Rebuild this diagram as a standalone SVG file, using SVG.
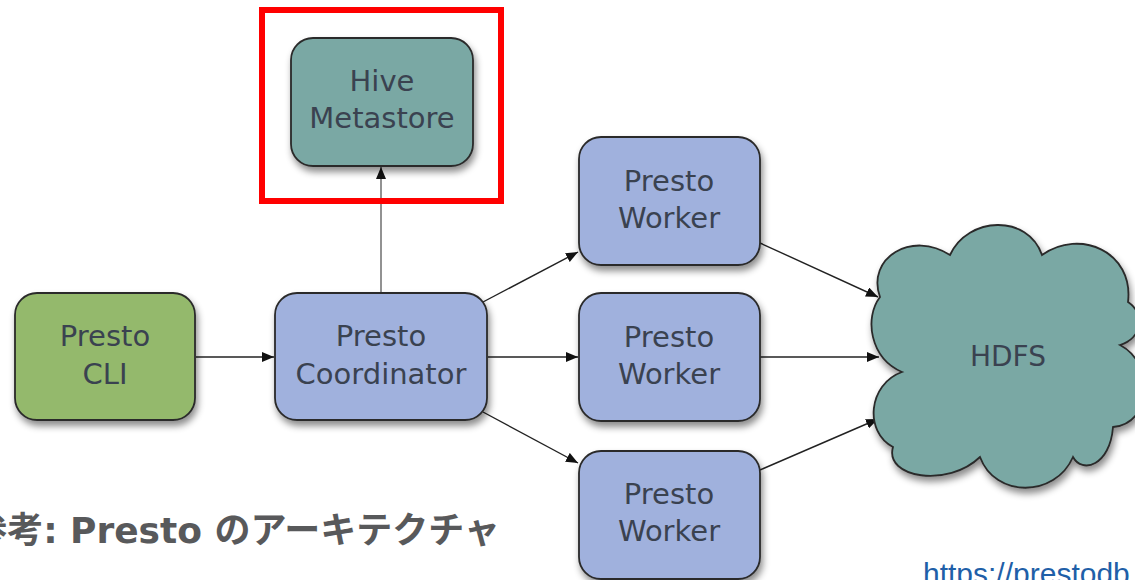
<svg xmlns="http://www.w3.org/2000/svg" width="1135" height="580" viewBox="0 0 1135 580">
<defs>
<style>
.box{stroke:#2a2a2a;stroke-width:1.8;filter:url(#sh)}
.blue{fill:#a0b1dd}
.teal{fill:#7aa8a4}
.green{fill:#94b96c}
.lbl{font-family:"DejaVu Sans",sans-serif;font-size:29px;fill:#3a4250;text-anchor:middle}
.con{stroke:#222;stroke-width:1.4;fill:none;marker-end:url(#ah)}
</style>
<marker id="ah" viewBox="0 0 12 10" refX="12" refY="5" markerWidth="12" markerHeight="10" markerUnits="userSpaceOnUse" orient="auto">
<path d="M0,0 L12,5 L0,10 Z" fill="#111"/>
</marker>
<filter id="sh" x="-20%" y="-20%" width="140%" height="150%">
<feDropShadow dx="2" dy="5" stdDeviation="3.5" flood-color="#000" flood-opacity="0.45"/>
</filter>
</defs>
<rect width="1135" height="580" fill="#fff"/>
<g id="connectors">
<line x1="381" y1="293" x2="381" y2="167" stroke="#777" stroke-width="1.6" fill="none" marker-end="url(#ah)"/>
<line class="con" x1="196" y1="357" x2="274" y2="357"/>
<line class="con" x1="483" y1="302" x2="578" y2="252"/>
<line class="con" x1="488" y1="357" x2="578" y2="357"/>
<line class="con" x1="483" y1="412" x2="578" y2="463"/>
<line class="con" x1="760" y1="243" x2="878" y2="297"/>
<line class="con" x1="760" y1="357" x2="879" y2="357"/>
<line class="con" x1="760" y1="470" x2="878" y2="419"/>
</g>
<g id="hive">
<rect class="box teal" x="291" y="38" width="182" height="128" rx="22"/>
<text class="lbl" x="382" y="91">Hive</text>
<text class="lbl" x="382" y="128">Metastore</text>
</g>
<rect id="highlight" x="262" y="10" width="239" height="191" fill="none" stroke="#f00" stroke-width="6"/>
<g id="cli">
<rect class="box green" x="15" y="293" width="180" height="127" rx="22"/>
<text class="lbl" x="105" y="346">Presto</text>
<text class="lbl" x="105" y="384">CLI</text>
</g>
<g id="coordinator">
<rect class="box blue" x="275" y="293" width="212" height="127" rx="22"/>
<text class="lbl" x="381" y="346">Presto</text>
<text class="lbl" x="381" y="384">Coordinator</text>
</g>
<g id="worker1">
<rect class="box blue" x="579" y="137" width="181" height="128" rx="22"/>
<text class="lbl" x="669" y="191">Presto</text>
<text class="lbl" x="669" y="228">Worker</text>
</g>
<g id="worker2">
<rect class="box blue" x="579" y="293" width="181" height="128" rx="22"/>
<text class="lbl" x="669" y="347">Presto</text>
<text class="lbl" x="669" y="384">Worker</text>
</g>
<g id="worker3">
<rect class="box blue" x="579" y="451" width="181" height="128" rx="22"/>
<text class="lbl" x="669" y="504">Presto</text>
<text class="lbl" x="669" y="541">Worker</text>
</g>
<g id="hdfs">
<path class="box teal" d="M880 297 C866 258,912 230,950 255 C968 216,1028 214,1042 255 C1080 228,1134 252,1128 302 C1146 314,1142 338,1120 345 C1156 364,1152 424,1113 427 C1110 466,1082 474,1073 457 C1055 498,995 498,980 457 C948 488,884 478,893 447 C864 432,868 384,902 372 C870 358,864 318,880 297 Z"/>
<text class="lbl" x="1008" y="366" style="font-size:28px">HDFS</text>
</g>
<text id="caption" x="500" y="543" text-anchor="end" font-family="'DejaVu Sans','Noto Sans CJK JP',sans-serif" font-weight="bold" font-size="36" fill="#58595b">参考: Presto のアーキテクチャ</text>
<text id="url" x="923" y="584" font-family="'Liberation Sans',Arial,sans-serif" font-size="30" fill="#1f5fa8">https://prestodb.io/</text>
</svg>
